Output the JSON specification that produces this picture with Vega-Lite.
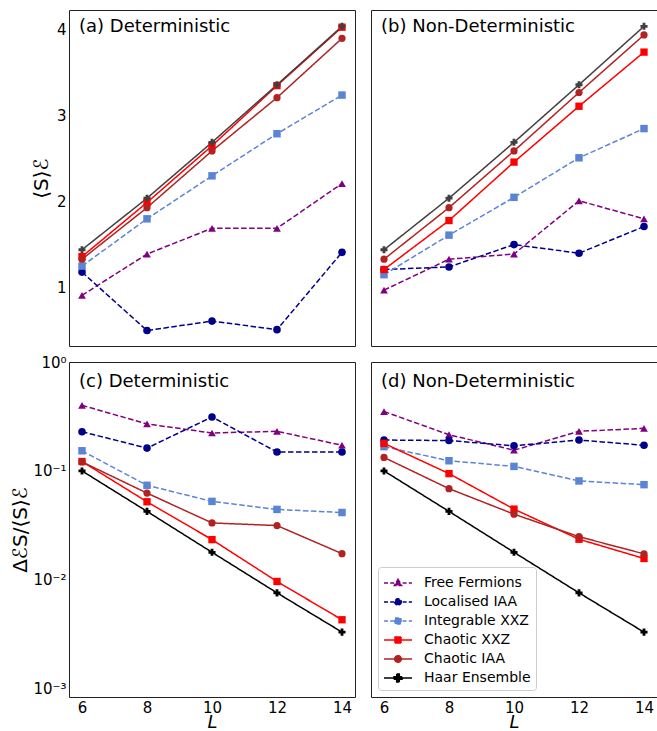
{
  "$schema": "https://vega.github.io/schema/vega-lite/v6.json",
  "padding": {"left": 10, "top": 9, "right": 0, "bottom": 0},
  "background": "white",
  "config": {
    "font": "DejaVu Sans",
    "view": {"stroke": "#222222", "strokeWidth": 1},
    "axis": {"labelFont": "DejaVu Sans", "titleFont": "DejaVu Sans", "labelColor": "#000000", "titleColor": "#000000", "labelFontSize": 15, "titleFontSize": 20, "titleFontWeight": "normal", "grid": false, "domain": false, "ticks": false, "labelPadding": 3},
    "legend": {"labelFont": "DejaVu Sans", "labelFontSize": 14, "labelColor": "#000000", "orient": "bottom-left", "offset": 7, "padding": 5, "rowPadding": 1, "strokeColor": "#cccccc", "fillColor": "rgba(255,255,255,0.85)", "cornerRadius": 3, "symbolSize": 400, "symbolStrokeWidth": 1.5, "symbolOpacity": 1, "labelOffset": 19}
  },
  "data": {"values": [
    {"panel":"a","L":6,"series":"Free Fermions","value":0.91},{"panel":"a","L":8,"series":"Free Fermions","value":1.39},{"panel":"a","L":10,"series":"Free Fermions","value":1.69},{"panel":"a","L":12,"series":"Free Fermions","value":1.69},{"panel":"a","L":14,"series":"Free Fermions","value":2.21},
    {"panel":"a","L":6,"series":"Localised IAA","value":1.18},{"panel":"a","L":8,"series":"Localised IAA","value":0.50},{"panel":"a","L":10,"series":"Localised IAA","value":0.61},{"panel":"a","L":12,"series":"Localised IAA","value":0.51},{"panel":"a","L":14,"series":"Localised IAA","value":1.41},
    {"panel":"a","L":6,"series":"Integrable XXZ","value":1.25},{"panel":"a","L":8,"series":"Integrable XXZ","value":1.80},{"panel":"a","L":10,"series":"Integrable XXZ","value":2.30},{"panel":"a","L":12,"series":"Integrable XXZ","value":2.79},{"panel":"a","L":14,"series":"Integrable XXZ","value":3.24},
    {"panel":"a","L":6,"series":"Chaotic XXZ","value":1.36},{"panel":"a","L":8,"series":"Chaotic XXZ","value":1.99},{"panel":"a","L":10,"series":"Chaotic XXZ","value":2.65},{"panel":"a","L":12,"series":"Chaotic XXZ","value":3.35},{"panel":"a","L":14,"series":"Chaotic XXZ","value":4.03},
    {"panel":"a","L":6,"series":"Chaotic IAA","value":1.33},{"panel":"a","L":8,"series":"Chaotic IAA","value":1.93},{"panel":"a","L":10,"series":"Chaotic IAA","value":2.59},{"panel":"a","L":12,"series":"Chaotic IAA","value":3.21},{"panel":"a","L":14,"series":"Chaotic IAA","value":3.90},
    {"panel":"a","L":6,"series":"Haar Ensemble","value":1.44},{"panel":"a","L":8,"series":"Haar Ensemble","value":2.04},{"panel":"a","L":10,"series":"Haar Ensemble","value":2.69},{"panel":"a","L":12,"series":"Haar Ensemble","value":3.36},{"panel":"a","L":14,"series":"Haar Ensemble","value":4.04},
    {"panel":"b","L":6,"series":"Free Fermions","value":0.97},{"panel":"b","L":8,"series":"Free Fermions","value":1.33},{"panel":"b","L":10,"series":"Free Fermions","value":1.39},{"panel":"b","L":12,"series":"Free Fermions","value":2.01},{"panel":"b","L":14,"series":"Free Fermions","value":1.80},
    {"panel":"b","L":6,"series":"Localised IAA","value":1.21},{"panel":"b","L":8,"series":"Localised IAA","value":1.24},{"panel":"b","L":10,"series":"Localised IAA","value":1.50},{"panel":"b","L":12,"series":"Localised IAA","value":1.40},{"panel":"b","L":14,"series":"Localised IAA","value":1.71},
    {"panel":"b","L":6,"series":"Integrable XXZ","value":1.15},{"panel":"b","L":8,"series":"Integrable XXZ","value":1.61},{"panel":"b","L":10,"series":"Integrable XXZ","value":2.05},{"panel":"b","L":12,"series":"Integrable XXZ","value":2.51},{"panel":"b","L":14,"series":"Integrable XXZ","value":2.85},
    {"panel":"b","L":6,"series":"Chaotic XXZ","value":1.21},{"panel":"b","L":8,"series":"Chaotic XXZ","value":1.78},{"panel":"b","L":10,"series":"Chaotic XXZ","value":2.46},{"panel":"b","L":12,"series":"Chaotic XXZ","value":3.11},{"panel":"b","L":14,"series":"Chaotic XXZ","value":3.74},
    {"panel":"b","L":6,"series":"Chaotic IAA","value":1.33},{"panel":"b","L":8,"series":"Chaotic IAA","value":1.93},{"panel":"b","L":10,"series":"Chaotic IAA","value":2.59},{"panel":"b","L":12,"series":"Chaotic IAA","value":3.27},{"panel":"b","L":14,"series":"Chaotic IAA","value":3.94},
    {"panel":"b","L":6,"series":"Haar Ensemble","value":1.44},{"panel":"b","L":8,"series":"Haar Ensemble","value":2.04},{"panel":"b","L":10,"series":"Haar Ensemble","value":2.69},{"panel":"b","L":12,"series":"Haar Ensemble","value":3.36},{"panel":"b","L":14,"series":"Haar Ensemble","value":4.04},
    {"panel":"c","L":6,"series":"Free Fermions","value":0.40},{"panel":"c","L":8,"series":"Free Fermions","value":0.27},{"panel":"c","L":10,"series":"Free Fermions","value":0.223},{"panel":"c","L":12,"series":"Free Fermions","value":0.231},{"panel":"c","L":14,"series":"Free Fermions","value":0.172},
    {"panel":"c","L":6,"series":"Localised IAA","value":0.229},{"panel":"c","L":8,"series":"Localised IAA","value":0.162},{"panel":"c","L":10,"series":"Localised IAA","value":0.313},{"panel":"c","L":12,"series":"Localised IAA","value":0.149},{"panel":"c","L":14,"series":"Localised IAA","value":0.149},
    {"panel":"c","L":6,"series":"Integrable XXZ","value":0.153},{"panel":"c","L":8,"series":"Integrable XXZ","value":0.0738},{"panel":"c","L":10,"series":"Integrable XXZ","value":0.0525},{"panel":"c","L":12,"series":"Integrable XXZ","value":0.0443},{"panel":"c","L":14,"series":"Integrable XXZ","value":0.0415},
    {"panel":"c","L":6,"series":"Chaotic XXZ","value":0.122},{"panel":"c","L":8,"series":"Chaotic XXZ","value":0.0521},{"panel":"c","L":10,"series":"Chaotic XXZ","value":0.0234},{"panel":"c","L":12,"series":"Chaotic XXZ","value":0.00966},{"panel":"c","L":14,"series":"Chaotic XXZ","value":0.0043},
    {"panel":"c","L":6,"series":"Chaotic IAA","value":0.121},{"panel":"c","L":8,"series":"Chaotic IAA","value":0.0626},{"panel":"c","L":10,"series":"Chaotic IAA","value":0.0333},{"panel":"c","L":12,"series":"Chaotic IAA","value":0.0315},{"panel":"c","L":14,"series":"Chaotic IAA","value":0.0174},
    {"panel":"c","L":6,"series":"Haar Ensemble","value":0.1},{"panel":"c","L":8,"series":"Haar Ensemble","value":0.0425},{"panel":"c","L":10,"series":"Haar Ensemble","value":0.0179},{"panel":"c","L":12,"series":"Haar Ensemble","value":0.00759},{"panel":"c","L":14,"series":"Haar Ensemble","value":0.00331},
    {"panel":"d","L":6,"series":"Free Fermions","value":0.351},{"panel":"d","L":8,"series":"Free Fermions","value":0.215},{"panel":"d","L":10,"series":"Free Fermions","value":0.155},{"panel":"d","L":12,"series":"Free Fermions","value":0.231},{"panel":"d","L":14,"series":"Free Fermions","value":0.246},
    {"panel":"d","L":6,"series":"Localised IAA","value":0.192},{"panel":"d","L":8,"series":"Localised IAA","value":0.19},{"panel":"d","L":10,"series":"Localised IAA","value":0.17},{"panel":"d","L":12,"series":"Localised IAA","value":0.192},{"panel":"d","L":14,"series":"Localised IAA","value":0.172},
    {"panel":"d","L":6,"series":"Integrable XXZ","value":0.167},{"panel":"d","L":8,"series":"Integrable XXZ","value":0.124},{"panel":"d","L":10,"series":"Integrable XXZ","value":0.110},{"panel":"d","L":12,"series":"Integrable XXZ","value":0.0809},{"panel":"d","L":14,"series":"Integrable XXZ","value":0.0748},
    {"panel":"d","L":6,"series":"Chaotic XXZ","value":0.179},{"panel":"d","L":8,"series":"Chaotic XXZ","value":0.0945},{"panel":"d","L":10,"series":"Chaotic XXZ","value":0.0446},{"panel":"d","L":12,"series":"Chaotic XXZ","value":0.0236},{"panel":"d","L":14,"series":"Chaotic XXZ","value":0.0157},
    {"panel":"d","L":6,"series":"Chaotic IAA","value":0.133},{"panel":"d","L":8,"series":"Chaotic IAA","value":0.0687},{"panel":"d","L":10,"series":"Chaotic IAA","value":0.0401},{"panel":"d","L":12,"series":"Chaotic IAA","value":0.0249},{"panel":"d","L":14,"series":"Chaotic IAA","value":0.0173},
    {"panel":"d","L":6,"series":"Haar Ensemble","value":0.1},{"panel":"d","L":8,"series":"Haar Ensemble","value":0.0425},{"panel":"d","L":10,"series":"Haar Ensemble","value":0.0179},{"panel":"d","L":12,"series":"Haar Ensemble","value":0.00759},{"panel":"d","L":14,"series":"Haar Ensemble","value":0.00331}
  ]},
  "columns": 2,
  "spacing": {"row": 7, "column": 14},
  "resolve": {"scale": {"color": "independent", "strokeDash": "independent", "shape": "independent", "size": "independent", "fill": "independent", "stroke": "independent"}},
  "concat": [
    {
      "width": 286, "height": 336,
      "title": {"text": "(a) Deterministic", "anchor": "start", "frame": "group", "dx": 10, "offset": -40, "baseline": "alphabetic", "fontSize": 18, "fontWeight": "normal", "font": "DejaVu Sans", "color": "#000000"},
      "transform": [{"filter": "datum.panel === 'a'"}],
      "encoding": {
        "x": {"field": "L", "type": "quantitative", "scale": {"domain": [5.6, 14.4], "nice": false, "zero": false}, "axis": {"labels": false, "title": null}},
        "y": {"field": "value", "type": "quantitative", "scale": {"domain": [0.32, 4.23], "nice": false, "zero": false}, "axis": {"values": [1, 2, 3, 4], "title": "⟨S⟩ℰ", "titlePadding": 5}}
      },
      "layer": [
        {"mark": {"type": "line", "strokeWidth": 1.5},
         "encoding": {
           "color": {"field": "series", "type": "nominal", "scale": {"domain": ["Free Fermions", "Localised IAA", "Integrable XXZ", "Chaotic XXZ", "Chaotic IAA", "Haar Ensemble"], "range": ["#800080", "#00008b", "#5b84d5", "#ff0000", "#b22222", "#404040"]}, "legend": null},
           "strokeDash": {"field": "series", "type": "nominal", "scale": {"domain": ["Free Fermions", "Localised IAA", "Integrable XXZ", "Chaotic XXZ", "Chaotic IAA", "Haar Ensemble"], "range": [[5.5, 2.5], [5.5, 2.5], [5.5, 2.5], [1, 0], [1, 0], [1, 0]]}, "legend": null}
         }},
        {"mark": {"type": "point", "filled": true, "opacity": 1},
         "encoding": {
           "color": {"field": "series", "type": "nominal", "scale": {"domain": ["Free Fermions", "Localised IAA", "Integrable XXZ", "Chaotic XXZ", "Chaotic IAA", "Haar Ensemble"], "range": ["#800080", "#00008b", "#5b84d5", "#ff0000", "#b22222", "#404040"]}, "legend": null},
           "shape": {"field": "series", "type": "nominal", "scale": {"domain": ["Free Fermions", "Localised IAA", "Integrable XXZ", "Chaotic XXZ", "Chaotic IAA", "Haar Ensemble"], "range": ["triangle-up", "circle", "square", "square", "circle", "cross"]}, "legend": null},
           "size": {"field": "series", "type": "nominal", "scale": {"domain": ["Free Fermions", "Localised IAA", "Integrable XXZ", "Chaotic XXZ", "Chaotic IAA", "Haar Ensemble"], "range": [60, 50, 50, 55, 50, 95]}, "legend": null}
         }}
      ]
    },
    {
      "width": 286, "height": 336,
      "title": {"text": "(b) Non-Deterministic", "anchor": "start", "frame": "group", "dx": 10, "offset": -40, "baseline": "alphabetic", "fontSize": 18, "fontWeight": "normal", "font": "DejaVu Sans", "color": "#000000"},
      "transform": [{"filter": "datum.panel === 'b'"}],
      "encoding": {
        "x": {"field": "L", "type": "quantitative", "scale": {"domain": [5.6, 14.4], "nice": false, "zero": false}, "axis": {"labels": false, "title": null}},
        "y": {"field": "value", "type": "quantitative", "scale": {"domain": [0.32, 4.23], "nice": false, "zero": false}, "axis": {"values": [1, 2, 3, 4], "labels": false, "title": null}}
      },
      "layer": [
        {"mark": {"type": "line", "strokeWidth": 1.5},
         "encoding": {
           "color": {"field": "series", "type": "nominal", "scale": {"domain": ["Free Fermions", "Localised IAA", "Integrable XXZ", "Chaotic XXZ", "Chaotic IAA", "Haar Ensemble"], "range": ["#800080", "#00008b", "#5b84d5", "#ff0000", "#b22222", "#404040"]}, "legend": null},
           "strokeDash": {"field": "series", "type": "nominal", "scale": {"domain": ["Free Fermions", "Localised IAA", "Integrable XXZ", "Chaotic XXZ", "Chaotic IAA", "Haar Ensemble"], "range": [[5.5, 2.5], [5.5, 2.5], [5.5, 2.5], [1, 0], [1, 0], [1, 0]]}, "legend": null}
         }},
        {"mark": {"type": "point", "filled": true, "opacity": 1},
         "encoding": {
           "color": {"field": "series", "type": "nominal", "scale": {"domain": ["Free Fermions", "Localised IAA", "Integrable XXZ", "Chaotic XXZ", "Chaotic IAA", "Haar Ensemble"], "range": ["#800080", "#00008b", "#5b84d5", "#ff0000", "#b22222", "#404040"]}, "legend": null},
           "shape": {"field": "series", "type": "nominal", "scale": {"domain": ["Free Fermions", "Localised IAA", "Integrable XXZ", "Chaotic XXZ", "Chaotic IAA", "Haar Ensemble"], "range": ["triangle-up", "circle", "square", "square", "circle", "cross"]}, "legend": null},
           "size": {"field": "series", "type": "nominal", "scale": {"domain": ["Free Fermions", "Localised IAA", "Integrable XXZ", "Chaotic XXZ", "Chaotic IAA", "Haar Ensemble"], "range": [60, 50, 50, 55, 50, 95]}, "legend": null}
         }}
      ]
    },
    {
      "width": 286, "height": 335,
      "title": {"text": "(c) Deterministic", "anchor": "start", "frame": "group", "dx": 10, "offset": -50, "baseline": "alphabetic", "fontSize": 18, "fontWeight": "normal", "font": "DejaVu Sans", "color": "#000000"},
      "transform": [{"filter": "datum.panel === 'c'"}],
      "encoding": {
        "x": {"field": "L", "type": "quantitative", "scale": {"domain": [5.6, 14.4], "nice": false, "zero": false}, "axis": {"values": [6, 8, 10, 12, 14], "title": "L", "titleFontStyle": "italic", "titleFontSize": 18, "titlePadding": -2}},
        "y": {"field": "value", "type": "quantitative", "scale": {"type": "log", "domain": [0.00084, 1], "nice": false}, "axis": {"values": [0.001, 0.01, 0.1, 1], "labelExpr": "datum.value > 0.5 ? '10⁰' : datum.value > 0.05 ? '10⁻¹' : datum.value > 0.005 ? '10⁻²' : '10⁻³'", "title": "ΔℰS/⟨S⟩ℰ", "titlePadding": 2}}
      },
      "layer": [
        {"mark": {"type": "line", "strokeWidth": 1.5},
         "encoding": {
           "color": {"field": "series", "type": "nominal", "scale": {"domain": ["Free Fermions", "Localised IAA", "Integrable XXZ", "Chaotic XXZ", "Chaotic IAA", "Haar Ensemble"], "range": ["#800080", "#00008b", "#5b84d5", "#ff0000", "#b22222", "#000000"]}, "legend": null},
           "strokeDash": {"field": "series", "type": "nominal", "scale": {"domain": ["Free Fermions", "Localised IAA", "Integrable XXZ", "Chaotic XXZ", "Chaotic IAA", "Haar Ensemble"], "range": [[5.5, 2.5], [5.5, 2.5], [5.5, 2.5], [1, 0], [1, 0], [1, 0]]}, "legend": null}
         }},
        {"mark": {"type": "point", "filled": true, "opacity": 1},
         "encoding": {
           "color": {"field": "series", "type": "nominal", "scale": {"domain": ["Free Fermions", "Localised IAA", "Integrable XXZ", "Chaotic XXZ", "Chaotic IAA", "Haar Ensemble"], "range": ["#800080", "#00008b", "#5b84d5", "#ff0000", "#b22222", "#000000"]}, "legend": null},
           "shape": {"field": "series", "type": "nominal", "scale": {"domain": ["Free Fermions", "Localised IAA", "Integrable XXZ", "Chaotic XXZ", "Chaotic IAA", "Haar Ensemble"], "range": ["triangle-up", "circle", "square", "square", "circle", "cross"]}, "legend": null},
           "size": {"field": "series", "type": "nominal", "scale": {"domain": ["Free Fermions", "Localised IAA", "Integrable XXZ", "Chaotic XXZ", "Chaotic IAA", "Haar Ensemble"], "range": [60, 50, 50, 55, 50, 95]}, "legend": null}
         }}
      ]
    },
    {
      "width": 286, "height": 335,
      "title": {"text": "(d) Non-Deterministic", "anchor": "start", "frame": "group", "dx": 10, "offset": -43, "baseline": "alphabetic", "fontSize": 18, "fontWeight": "normal", "font": "DejaVu Sans", "color": "#000000"},
      "transform": [{"filter": "datum.panel === 'd'"}],
      "encoding": {
        "x": {"field": "L", "type": "quantitative", "scale": {"domain": [5.6, 14.4], "nice": false, "zero": false}, "axis": {"values": [6, 8, 10, 12, 14], "title": "L", "titleFontStyle": "italic", "titleFontSize": 18, "titlePadding": -2}},
        "y": {"field": "value", "type": "quantitative", "scale": {"type": "log", "domain": [0.00084, 1], "nice": false}, "axis": {"values": [0.001, 0.01, 0.1, 1], "labels": false, "title": null}}
      },
      "resolve": {"scale": {"shape": "independent", "strokeDash": "independent", "fill": "independent", "stroke": "independent"}},
      "layer": [
        {"mark": {"type": "line", "strokeWidth": 1.5},
         "encoding": {
           "color": {"field": "series", "type": "nominal", "scale": {"domain": ["Free Fermions", "Localised IAA", "Integrable XXZ", "Chaotic XXZ", "Chaotic IAA", "Haar Ensemble"], "range": ["#800080", "#00008b", "#5b84d5", "#ff0000", "#b22222", "#000000"]}, "legend": null},
           "strokeDash": {"field": "series", "type": "nominal", "scale": {"domain": ["Free Fermions", "Localised IAA", "Integrable XXZ", "Chaotic XXZ", "Chaotic IAA", "Haar Ensemble"], "range": [[5.5, 2.5], [5.5, 2.5], [5.5, 2.5], [1, 0], [1, 0], [1, 0]]}, "legend": null}
         }},
        {"mark": {"type": "point", "filled": true, "opacity": 1},
         "encoding": {
           "color": {"field": "series", "type": "nominal", "scale": {"domain": ["Free Fermions", "Localised IAA", "Integrable XXZ", "Chaotic XXZ", "Chaotic IAA", "Haar Ensemble"], "range": ["#800080", "#00008b", "#5b84d5", "#ff0000", "#b22222", "#000000"]}, "legend": null},
           "shape": {"field": "series", "type": "nominal", "scale": {"domain": ["Free Fermions", "Localised IAA", "Integrable XXZ", "Chaotic XXZ", "Chaotic IAA", "Haar Ensemble"], "range": ["triangle-up", "circle", "square", "square", "circle", "cross"]}, "legend": null},
           "size": {"field": "series", "type": "nominal", "scale": {"domain": ["Free Fermions", "Localised IAA", "Integrable XXZ", "Chaotic XXZ", "Chaotic IAA", "Haar Ensemble"], "range": [60, 50, 50, 55, 50, 95]}, "legend": null}
         }},
        {"mark": {"type": "point", "filled": true, "opacity": 0, "strokeWidth": 1.5},
         "encoding": {
           "fill": {"field": "series", "type": "nominal", "scale": {"domain": ["Free Fermions", "Localised IAA", "Integrable XXZ", "Chaotic XXZ", "Chaotic IAA", "Haar Ensemble"], "range": ["#800080", "#00008b", "#5b84d5", "#ff0000", "#b22222", "#000000"]}, "legend": {"title": null}},
           "stroke": {"field": "series", "type": "nominal", "scale": {"domain": ["Free Fermions", "Localised IAA", "Integrable XXZ", "Chaotic XXZ", "Chaotic IAA", "Haar Ensemble"], "range": ["#800080", "#00008b", "#5b84d5", "#ff0000", "#b22222", "#000000"]}, "legend": {"title": null}},
           "shape": {"field": "series", "type": "nominal", "scale": {"domain": ["Free Fermions", "Localised IAA", "Integrable XXZ", "Chaotic XXZ", "Chaotic IAA", "Haar Ensemble"], "range": ["M-1,0H1.8M0.4,-0.38L0.76,0.26L0.04,0.26Z", "M-1,0H1.8M0.73,0A0.33,0.33,0,1,1,0.07,0A0.33,0.33,0,1,1,0.73,0Z", "M-1,0H1.8M0.1,-0.3H0.7V0.3H0.1Z", "M-1,0H1.8M0.1,-0.3H0.7V0.3H0.1Z", "M-1,0H1.8M0.73,0A0.33,0.33,0,1,1,0.07,0A0.33,0.33,0,1,1,0.73,0Z", "M-1,0H1.8M0.27,-0.4H0.53V-0.13H0.8V0.13H0.53V0.4H0.27V0.13H0V-0.13H0.27Z"]}, "legend": {"title": null}},
           "strokeDash": {"field": "series", "type": "nominal", "scale": {"domain": ["Free Fermions", "Localised IAA", "Integrable XXZ", "Chaotic XXZ", "Chaotic IAA", "Haar Ensemble"], "range": [[4, 2.2], [4, 2.2], [4, 2.2], [1, 0], [1, 0], [1, 0]]}, "legend": {"title": null}}
         }}
      ]
    }
  ]
}
